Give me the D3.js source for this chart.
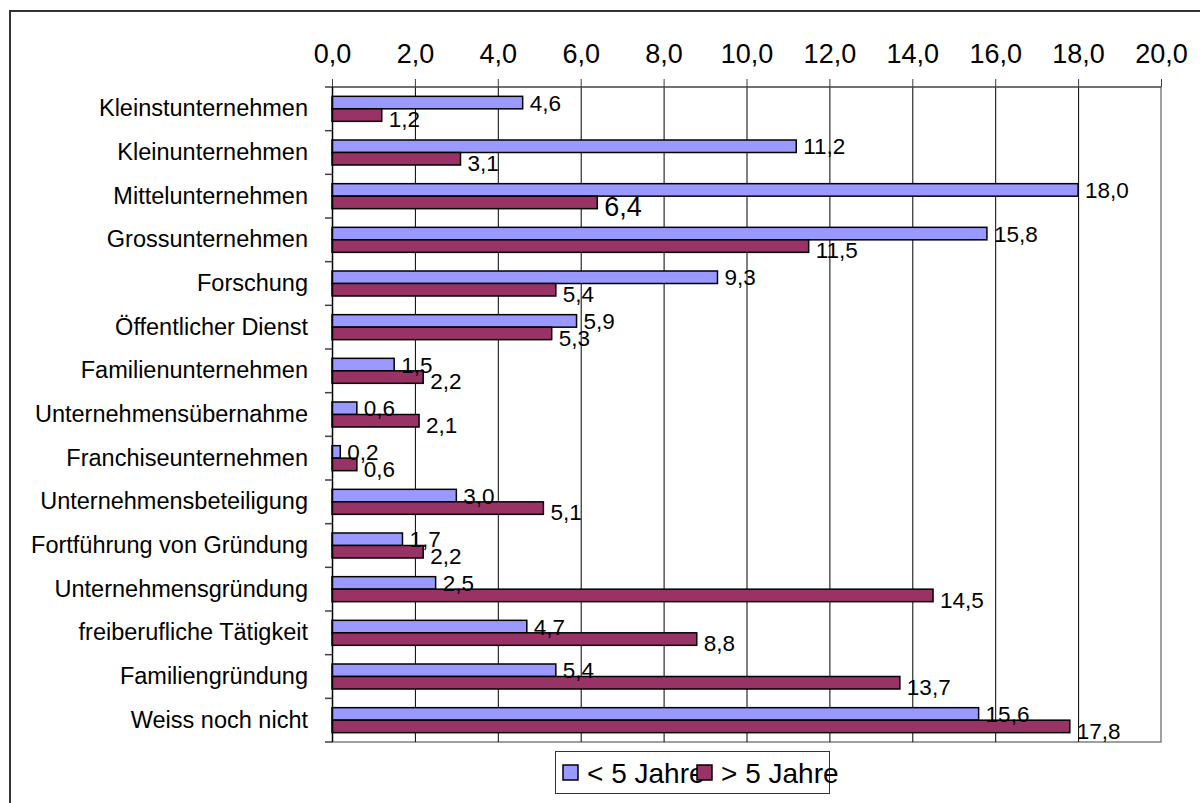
<!DOCTYPE html>
<html>
<head>
<meta charset="utf-8">
<script src="https://cdn.jsdelivr.net/npm/d3@7"></script>
<style>
  body { margin: 0; background: #fff; }
  svg { font-family: "Liberation Sans", Arial, sans-serif; }
</style>
</head>
<body>
<div id="chart"></div>
<script>
// categories, top to bottom
var categories = ["Kleinstunternehmen", "Kleinunternehmen", "Mittelunternehmen",
  "Grossunternehmen", "Forschung", "Öffentlicher Dienst", "Familienunternehmen",
  "Unternehmensübernahme", "Franchiseunternehmen", "Unternehmensbeteiligung",
  "Fortführung von Gründung", "Unternehmensgründung", "freiberufliche Tätigkeit",
  "Familiengründung", "Weiss noch nicht"];
var seriesNames = ["< 5 Jahre", "> 5 Jahre"];
var under5 = [4.6, 11.2, 18.0, 15.8, 9.3, 5.9, 1.5, 0.6, 0.2, 3.0, 1.7, 2.5, 4.7, 5.4, 15.6];
var over5 = [1.2, 3.1, 6.4, 11.5, 5.4, 5.3, 2.2, 2.1, 0.6, 5.1, 2.2, 14.5, 8.8, 13.7, 17.8];
var ticks = [0, 2, 4, 6, 8, 10, 12, 14, 16, 18, 20];

var width = 1200, height = 803;
var colors = ["#9999ff", "#993366"];
var fmt = function (v) { return v.toFixed(1).replace(".", ","); };

var svg = d3.select("#chart").append("svg")
  .attr("width", width)
  .attr("height", height);

// outer frame (only top and left edges visible)
svg.append("path")
  .attr("d", "M10," + height + "V11H" + width)
  .attr("fill", "none")
  .attr("stroke", "#333")
  .attr("stroke-width", 2);

var pLeft = 332, pRight = 1161, pTop = 87, pBottom = 742;

var x = d3.scaleLinear().domain([0, 20]).range([pLeft, pRight]);
var y = d3.scaleBand().domain(categories).range([pTop, pBottom]);

// plot frame right / bottom
svg.append("path")
  .attr("d", "M" + pLeft + "," + pBottom + "H" + pRight + "V" + pTop)
  .attr("fill", "none")
  .attr("stroke", "#808080")
  .attr("stroke-width", 1.5);

// gridlines
svg.append("g").selectAll("line")
  .data(ticks.slice(1, -1))
  .enter().append("line")
  .attr("x1", function (d) { return x(d) + 0.5; })
  .attr("x2", function (d) { return x(d) + 0.5; })
  .attr("y1", pTop)
  .attr("y2", pBottom)
  .attr("stroke", "#000")
  .attr("stroke-width", 1);

// top axis
var xAxis = d3.axisTop(x).tickValues(ticks).tickFormat(fmt).tickSize(8).tickSizeOuter(0);
var gx = svg.append("g")
  .attr("transform", "translate(0," + pTop + ")")
  .call(xAxis);
gx.select(".domain").remove();
gx.selectAll(".tick line").attr("stroke", "#404040");
gx.selectAll("text")
  .attr("font-size", 27)
  .attr("fill", "#000")
  .attr("y", -24)
  .attr("dy", 0)
  .attr("font-family", "Liberation Sans, Arial, sans-serif");
svg.append("line")
  .attr("x1", 325).attr("x2", pRight)
  .attr("y1", pTop).attr("y2", pTop)
  .attr("stroke", "#404040")
  .attr("stroke-width", 1.5);

// bars
var barH = 12.5;
var rows = categories.map(function (c, i) { return {cat: c, vals: [under5[i], over5[i]]}; });

var g = svg.append("g").selectAll("g")
  .data(rows)
  .enter().append("g");

[0, 1].forEach(function (s) {
  g.append("rect")
    .attr("x", pLeft)
    .attr("y", function (d) { return y(d.cat) + y.bandwidth() / 2 - barH + s * barH; })
    .attr("width", function (d) { return x(d.vals[s]) - pLeft; })
    .attr("height", barH)
    .attr("fill", colors[s])
    .attr("stroke", "#000")
    .attr("stroke-width", 1.5);
});
// value labels (Excel style, slightly below for the second series)
[0, 1].forEach(function (s) {
  g.append("text")
    .attr("x", function (d) { return x(d.vals[s]) + 7; })
    .attr("y", function (d) { return y(d.cat) + y.bandwidth() / 2 - barH / 2 + s * (barH + 4); })
    .attr("dy", "0.36em")
    .attr("font-size", function (d, i) { return (s === 1 && i === 2) ? 27 : 22.5; })
    .text(function (d) { return fmt(d.vals[s]); });
});

// left axis
var yAxis = d3.axisLeft(y).tickSize(0).tickPadding(24);
var gy = svg.append("g")
  .attr("transform", "translate(" + pLeft + ",0)")
  .call(yAxis);
gy.select(".domain").remove();
gy.selectAll("text")
  .attr("font-size", 23.5)
  .attr("fill", "#000")
  .attr("font-family", "Liberation Sans, Arial, sans-serif");

svg.append("line")
  .attr("x1", pLeft + 0.5).attr("x2", pLeft + 0.5)
  .attr("y1", pTop).attr("y2", pBottom)
  .attr("stroke", "#000")
  .attr("stroke-width", 1.5);

// category boundary tick marks
svg.append("g").selectAll("line")
  .data(categories.slice(1).concat(["_end"]))
  .enter().append("line")
  .attr("x1", 325).attr("x2", pLeft)
  .attr("y1", function (d) { return d === "_end" ? pBottom : y(d); })
  .attr("y2", function (d) { return d === "_end" ? pBottom : y(d); })
  .attr("stroke", "#404040")
  .attr("stroke-width", 1.5);

// legend
var lg = svg.append("g");
lg.append("rect")
  .attr("x", 555.5).attr("y", 751.5)
  .attr("width", 274).attr("height", 42)
  .attr("fill", "#fff")
  .attr("stroke", "#333")
  .attr("stroke-width", 1);
var legendX = [563, 697];
seriesNames.forEach(function (n, i) {
  lg.append("text")
    .attr("x", legendX[i] + 24).attr("y", 773)
    .attr("dy", "0.36em")
    .attr("font-size", 28)
    .text(n);
});
seriesNames.forEach(function (n, i) {
  lg.append("rect")
    .attr("x", legendX[i]).attr("y", 765)
    .attr("width", 15).attr("height", 15)
    .attr("fill", colors[i])
    .attr("stroke", "#000")
    .attr("stroke-width", 1.5);
});
</script>
</body>
</html>
